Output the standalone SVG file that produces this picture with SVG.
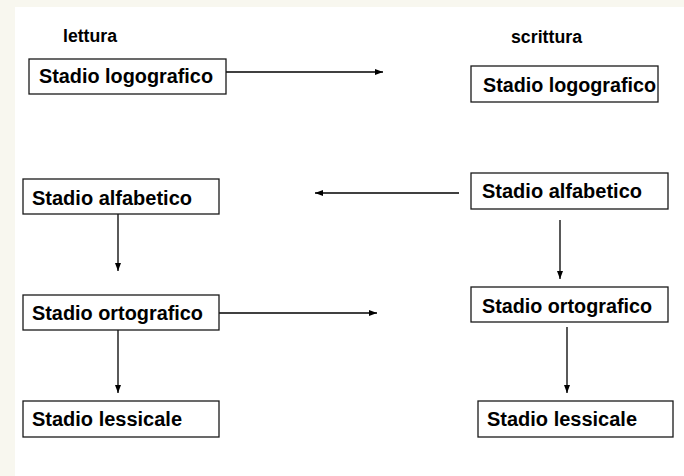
<svg xmlns="http://www.w3.org/2000/svg" width="684" height="476" viewBox="0 0 684 476">
  <style>
    .box { fill: #ffffff; stroke: #1a1a1a; stroke-width: 1.3; }
    .lbl { font-family: "Liberation Sans", Arial, sans-serif; font-weight: bold; font-size: 20px; fill: #000; }
    .head { font-family: "Liberation Sans", Arial, sans-serif; font-weight: bold; font-size: 18px; fill: #000; }
    .conn { stroke: #000; stroke-width: 1.3; fill: none; marker-end: url(#tip); }
  </style>
  <defs>
    <marker id="tip" markerUnits="userSpaceOnUse" viewBox="0 0 8 6" refX="8" refY="3" markerWidth="8" markerHeight="6" orient="auto">
      <path d="M0,0 L8,3 L0,6 Z" fill="#000"/>
    </marker>
  </defs>

  <!-- page background with a pale frame on the top and left -->
  <rect x="0" y="0" width="684" height="476" fill="#ffffff"/>
  <rect x="0" y="0" width="684" height="7" fill="#f8f7ef"/>
  <rect x="0" y="0" width="15" height="476" fill="#f8f7ef"/>

  <!-- column headings -->
  <text class="head" x="63" y="42" textLength="54" lengthAdjust="spacingAndGlyphs">lettura</text>
  <text class="head" x="511" y="43" textLength="71" lengthAdjust="spacingAndGlyphs">scrittura</text>

  <!-- connectors -->
  <g id="connectors">
    <line class="conn" x1="226" y1="72" x2="383" y2="72"/>
    <line class="conn" x1="459" y1="193" x2="315" y2="193"/>
    <line class="conn" x1="118" y1="214" x2="118" y2="271"/>
    <line class="conn" x1="560" y1="220" x2="560" y2="279"/>
    <line class="conn" x1="219" y1="313" x2="377" y2="313"/>
    <line class="conn" x1="118" y1="330" x2="118" y2="393"/>
    <line class="conn" x1="567" y1="327" x2="567" y2="393"/>
  </g>

  <!-- reading column -->
  <g id="lettura-logografico">
    <rect class="box" x="29" y="59" width="197" height="35"/>
    <text class="lbl" x="39" y="83" textLength="174" lengthAdjust="spacingAndGlyphs">Stadio logografico</text>
  </g>
  <g id="lettura-alfabetico">
    <rect class="box" x="23" y="179" width="196" height="35"/>
    <text class="lbl" x="32" y="205" textLength="160" lengthAdjust="spacingAndGlyphs">Stadio alfabetico</text>
  </g>
  <g id="lettura-ortografico">
    <rect class="box" x="23" y="295" width="196" height="35"/>
    <text class="lbl" x="32" y="320" textLength="171" lengthAdjust="spacingAndGlyphs">Stadio ortografico</text>
  </g>
  <g id="lettura-lessicale">
    <rect class="box" x="23" y="401" width="196" height="36"/>
    <text class="lbl" x="32" y="426" textLength="150" lengthAdjust="spacingAndGlyphs">Stadio lessicale</text>
  </g>

  <!-- writing column -->
  <g id="scrittura-logografico">
    <rect class="box" x="471" y="66" width="187" height="36"/>
    <text class="lbl" x="483" y="92" textLength="173" lengthAdjust="spacingAndGlyphs">Stadio logografico</text>
  </g>
  <g id="scrittura-alfabetico">
    <rect class="box" x="471" y="173" width="197" height="36"/>
    <text class="lbl" x="482" y="198" textLength="160" lengthAdjust="spacingAndGlyphs">Stadio alfabetico</text>
  </g>
  <g id="scrittura-ortografico">
    <rect class="box" x="471" y="287" width="197" height="35"/>
    <text class="lbl" x="482" y="313" textLength="170" lengthAdjust="spacingAndGlyphs">Stadio ortografico</text>
  </g>
  <g id="scrittura-lessicale">
    <rect class="box" x="478" y="401" width="195" height="36"/>
    <text class="lbl" x="487" y="426" textLength="150" lengthAdjust="spacingAndGlyphs">Stadio lessicale</text>
  </g>
</svg>
